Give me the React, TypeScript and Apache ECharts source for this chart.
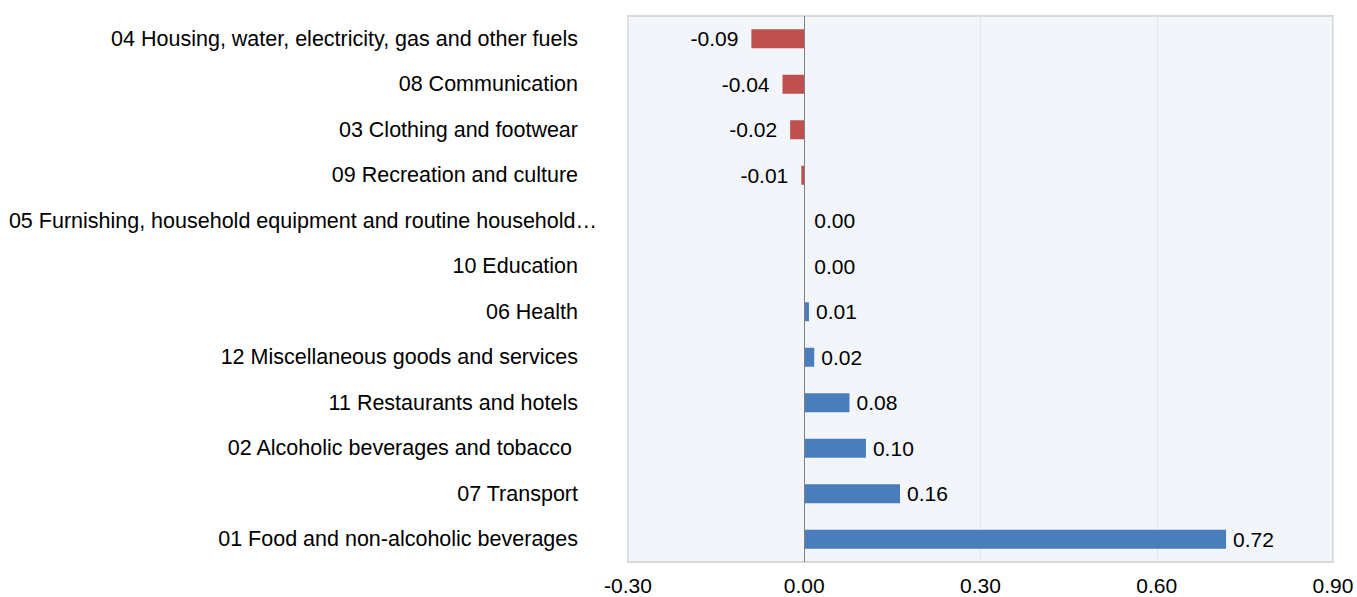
import React, { useEffect, useRef } from "react";
import * as echarts from "echarts";

const categories = [
  "04 Housing, water, electricity, gas and other fuels",
  "08 Communication",
  "03 Clothing and footwear",
  "09 Recreation and culture",
  "05 Furnishing, household equipment and routine household…",
  "10 Education",
  "06 Health",
  "12 Miscellaneous goods and services",
  "11 Restaurants and hotels",
  "02 Alcoholic beverages and tobacco",
  "07 Transport",
  "01 Food and non-alcoholic beverages",
];
const values = [-0.09, -0.037, -0.024, -0.005, 0.0, 0.0, 0.008, 0.017, 0.077, 0.105, 0.163, 0.718];
const labels = ["-0.09", "-0.04", "-0.02", "-0.01", "0.00", "0.00", "0.01", "0.02", "0.08", "0.10", "0.16", "0.72"];

const FONT = "'Liberation Sans', Arial, sans-serif";
const FS = 21;
const CAT_FS = 21.5;

export default function App() {
  const ref = useRef<HTMLDivElement>(null);
  useEffect(() => {
    if (!ref.current) return;
    const chart = echarts.init(ref.current, undefined, { renderer: "svg" });
    const data = values.map((v, i) => ({
      value: v,
      itemStyle: { color: v < 0 ? "#C0504D" : "#4A7EBB" },
      label: {
        show: true,
        position: v < 0 ? "left" : "right",
        distance: v < 0 ? 13 : v === 0 ? 10 : 7,
        formatter: labels[i],
        color: "#000",
        fontSize: FS,
        fontFamily: FONT,
      },
    }));
    chart.setOption({
      animation: false,
      grid: {
        left: 628,
        right: 24,
        top: 16,
        bottom: 35,
        show: true,
        backgroundColor: "#F2F5FA",
        borderColor: "#D9D9D9",
        borderWidth: 2,
        containLabel: false,
      },
      xAxis: {
        type: "value",
        min: -0.3,
        max: 0.9,
        interval: 0.3,
        axisLine: { show: false },
        axisTick: { show: false },
        splitLine: { show: true, lineStyle: { color: "#E2E6EC", width: 1 } },
        axisLabel: {
          formatter: (v: number) => v.toFixed(2),
          color: "#000",
          fontSize: FS,
          fontFamily: FONT,
          margin: 13,
        },
      },
      yAxis: {
        type: "category",
        data: categories,
        inverse: true,
        axisLine: { show: false },
        axisTick: { show: false },
        axisLabel: {
          color: "#000",
          fontSize: CAT_FS,
          fontFamily: FONT,
          margin: 31,
          formatter: (v: string) => {
            if (v.startsWith("05")) return `{a|${v}}`;
            if (v.startsWith("02")) return `{a|${v}}{w|}`;
            return `{a|${v}}{s|}`;
          },
          rich: {
            a: { fontSize: CAT_FS, fontFamily: FONT, color: "#000" },
            s: { width: 19 },
            w: { width: 25 },
          },
        },
      },
      series: [
        {
          type: "bar",
          data,
          barWidth: 19,
          markLine: {
            silent: true,
            symbol: "none",
            label: { show: false },
            lineStyle: { color: "#808080", type: "solid", width: 1 },
            data: [{ xAxis: 0 }],
          },
        },
      ],
    });
    return () => chart.dispose();
  }, []);
  return (
    <div
      ref={ref}
      style={{ position: "fixed", left: 0, top: 0, width: 1357, height: 597, background: "#fff" }}
    />
  );
}
